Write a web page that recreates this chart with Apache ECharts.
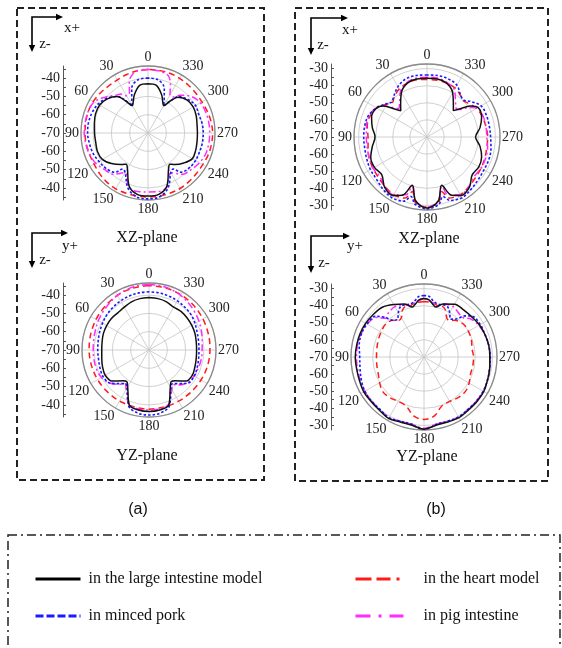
<!DOCTYPE html>
<html>
<head>
<meta charset="utf-8">
<script src="https://cdn.jsdelivr.net/npm/echarts@6/dist/echarts.min.js"></script>
<style>
  html, body { margin: 0; padding: 0; background: #fff; }
  #chart { width: 562px; height: 648px; }
</style>
</head>
<body>
<div id="chart"></div>
<script>
// ---- series names ----
const names = ['in the large intestine model', 'in minced pork', 'in the heart model', 'in pig intestine'];

// ---- angle ticks (deg) ----
const angleTicks = [0, 30, 60, 90, 120, 150, 180, 210, 240, 270, 300, 330];

// ---- (a) XZ-plane : [angle deg, dB] ----
const aXZ_intestine = [[0,-43.1],[10,-43.6],[20,-48],[25,-51],[30,-52.7],[35,-48.5],[40,-44],[50,-41],[60,-39.5],[70,-39.5],[80,-40.3],[90,-40.8],[100,-41],[110,-40.6],[120,-41.2],[130,-44],[140,-47.5],[145,-49.2],[150,-47.5],[160,-39.5],[170,-36],[180,-35.6],[190,-36],[200,-39.5],[210,-47.5],[215,-49.2],[220,-47.5],[230,-44.5],[240,-42],[250,-42.3],[260,-42.8],[270,-43],[280,-42.8],[290,-42],[300,-41.5],[310,-42],[320,-44.5],[325,-48.5],[330,-52.7],[335,-51],[340,-48],[350,-43.6]];
const aXZ_pork = [[0,-40],[10,-40.3],[20,-44],[25,-49],[30,-53],[35,-48],[40,-44],[50,-40.5],[60,-38.5],[70,-37.5],[80,-37],[90,-37],[100,-37.5],[110,-38],[120,-39],[130,-40],[140,-42],[145,-46],[150,-45],[160,-38],[170,-34.5],[180,-34],[190,-34.5],[200,-38],[210,-45],[215,-46],[220,-42],[230,-40.5],[240,-40],[250,-40],[260,-39.8],[270,-39.8],[280,-40],[290,-40.5],[300,-40],[310,-41.5],[320,-44],[325,-48.5],[330,-53],[335,-49],[340,-44],[350,-40.3]];
const aXZ_heart = [[0,-35.3],[10,-35.5],[20,-36],[30,-36.5],[40,-36.5],[50,-36],[60,-35.5],[70,-35.3],[80,-35.5],[90,-35.6],[100,-35.8],[110,-36],[120,-36],[130,-35.5],[140,-35],[150,-34.8],[160,-35],[170,-35],[180,-35],[190,-35],[200,-35],[210,-35],[220,-35.3],[230,-35.5],[240,-35.5],[250,-35],[260,-34.8],[270,-34.7],[280,-35],[290,-35.5],[300,-36],[310,-36],[320,-35.8],[330,-35.5],[340,-35.3],[350,-35.3]];
const aXZ_pig = [[0,-35.3],[10,-35.6],[15,-37],[20,-40],[25,-46],[30,-46.5],[35,-44],[40,-43],[50,-39.5],[60,-36],[70,-35.3],[80,-35.2],[90,-35.2],[100,-35.5],[110,-36],[120,-37],[130,-39],[140,-40.5],[145,-43],[150,-45],[155,-43],[160,-39],[170,-37.5],[180,-37.8],[190,-37.5],[200,-39],[205,-43],[210,-45],[215,-43],[220,-40.5],[230,-39],[240,-37.5],[250,-36.5],[260,-36.3],[270,-36.3],[280,-36.3],[290,-36.5],[300,-37],[310,-39],[320,-43],[325,-46],[330,-46],[335,-41],[340,-37],[345,-36],[350,-35.5]];

// ---- (a) YZ-plane ----
const aYZ_intestine = [[0,-41.3],[10,-41.5],[20,-42],[30,-43],[40,-43.5],[50,-43.2],[60,-43.3],[70,-43.5],[80,-44],[90,-44.2],[100,-43.8],[110,-43],[120,-42.4],[130,-43.6],[140,-48],[145,-48.9],[150,-46.7],[160,-38.2],[170,-36.7],[180,-36.4],[190,-36.7],[200,-38.2],[210,-46.7],[215,-48.9],[220,-48],[230,-43.6],[240,-42.6],[250,-43.3],[260,-43.8],[270,-44],[280,-43.8],[290,-43.3],[300,-43],[310,-42.8],[320,-42.6],[330,-43],[340,-42],[350,-41.5]];
const aYZ_pork = [[0,-38.2],[10,-38.3],[20,-38.6],[30,-39],[40,-39.5],[50,-40],[60,-40.7],[70,-41.3],[80,-41.8],[90,-42],[100,-42],[110,-41.5],[120,-41],[130,-42],[140,-46],[145,-47.6],[150,-46],[160,-37.5],[170,-35],[180,-34.5],[190,-35],[200,-37.5],[210,-46],[215,-47.6],[220,-46],[230,-42],[240,-41.5],[250,-42],[260,-42.5],[270,-42.7],[280,-42.5],[290,-42],[300,-41],[310,-40],[320,-39.5],[330,-39],[340,-38.6],[350,-38.3]];
const aYZ_heart = [[0,-34.8],[10,-35],[20,-35.2],[30,-35.5],[40,-35.9],[50,-36.3],[60,-36.6],[70,-36.9],[80,-37.1],[90,-37.3],[100,-37.4],[110,-37.5],[120,-37.6],[130,-37.7],[140,-37.8],[150,-37.8],[160,-37.9],[170,-37.8],[180,-37.7],[190,-37.8],[200,-37.8],[210,-37.7],[220,-37.6],[230,-37.4],[240,-37.2],[250,-37],[260,-36.8],[270,-36.7],[280,-36.5],[290,-36.3],[300,-36],[310,-35.7],[320,-35.4],[330,-35.2],[340,-35],[350,-34.9]];
const aYZ_pig = [[0,-34.2],[10,-34.3],[20,-34.8],[30,-35.5],[40,-36.5],[50,-37.3],[60,-38],[70,-38.8],[80,-39.3],[90,-39.5],[100,-39.5],[110,-39.5],[120,-40],[130,-42],[140,-45.5],[145,-47.5],[150,-45],[160,-38.5],[170,-37.3],[180,-37.2],[190,-37.3],[200,-38.5],[210,-45],[215,-47],[220,-45],[230,-42.5],[240,-41.5],[250,-41.3],[260,-41],[270,-41],[280,-40.5],[290,-39.5],[300,-38.5],[310,-37.5],[320,-36.5],[330,-35.5],[340,-34.8],[350,-34.4]];

// ---- (b) XZ-plane ----
const bXZ_intestine = [[0,-35.7],[10,-35.5],[20,-36.5],[30,-40],[40,-46],[45,-48.3],[50,-44],[55,-38.5],[60,-36],[70,-35.5],[80,-37.5],[90,-39.6],[100,-37.5],[110,-35],[120,-34.5],[130,-35.5],[140,-31.5],[150,-30.5],[157,-33],[163,-40.5],[170,-32],[180,-28.5],[190,-32],[197,-40.5],[203,-33],[210,-30.5],[220,-31.5],[230,-35.5],[240,-35],[250,-36],[260,-38.5],[270,-41.6],[280,-38.5],[290,-36],[300,-35.5],[305,-38.5],[310,-44],[315,-48.2],[320,-46],[330,-40],[340,-36.5],[350,-35.5]];
const bXZ_pork = [[0,-33.7],[10,-33.5],[20,-33.8],[30,-36],[40,-39.5],[45,-41],[50,-39.5],[60,-36],[70,-33.5],[80,-33],[90,-33],[100,-33],[110,-32.5],[120,-31.8],[130,-31.5],[140,-30],[150,-29],[160,-30],[165,-34],[170,-30],[180,-28],[190,-30],[195,-34],[200,-30.5],[210,-29],[220,-30],[230,-31],[240,-31.5],[250,-31.5],[260,-32],[270,-32.8],[280,-33],[290,-33],[300,-33.5],[310,-37.5],[315,-39.5],[320,-39],[330,-35],[340,-33.8],[350,-33.5]];
const bXZ_heart = [[0,-36.3],[10,-36],[20,-36.5],[30,-37.5],[40,-40],[45,-41.5],[50,-40],[60,-36],[70,-34.5],[80,-34.5],[90,-35.5],[100,-35],[110,-34],[120,-33.5],[130,-33],[140,-32],[150,-31],[160,-32],[165,-37],[170,-31],[180,-29],[190,-31],[195,-37],[200,-32],[210,-31],[220,-32],[230,-33],[240,-33.5],[250,-34],[260,-34.5],[270,-34.5],[280,-35],[290,-35.5],[300,-36.5],[310,-39],[315,-40],[320,-39],[330,-37],[340,-36.5],[350,-36.3]];
const bXZ_pig = [[0,-35],[10,-35],[20,-36],[30,-39],[40,-45],[45,-46.5],[50,-43],[55,-38],[60,-35.5],[70,-34],[80,-34],[90,-34.5],[100,-34.5],[110,-34],[120,-33.5],[130,-34],[140,-32],[150,-31],[160,-34],[163,-40],[170,-32],[180,-29],[190,-32],[197,-40],[200,-34],[210,-31],[220,-32],[230,-34],[240,-33.5],[250,-33.5],[260,-34],[270,-35],[280,-35],[290,-35],[300,-36],[305,-40],[310,-45],[315,-46],[320,-44],[330,-38],[340,-36],[350,-35]];

// ---- (b) YZ-plane ----
const bYZ_intestine = [[0,-35.8],[5,-36.5],[10,-39],[13,-40],[20,-37],[30,-34.5],[40,-32],[50,-31.3],[60,-30.6],[70,-30.2],[80,-30],[90,-29.8],[100,-30],[110,-29.8],[120,-29.3],[130,-29.6],[140,-29.4],[150,-28.5],[160,-29.5],[170,-29.5],[180,-27.8],[190,-29.5],[200,-29.5],[210,-29],[220,-29.5],[230,-29.5],[240,-29.6],[250,-30.5],[260,-31],[270,-31.5],[280,-31.5],[290,-32],[300,-32.5],[310,-33.5],[320,-34],[330,-34.3],[340,-37],[347,-40],[350,-39],[355,-36.5]];
const bYZ_pork = [[0,-34],[5,-34.5],[10,-37],[15,-38],[20,-37.5],[25,-37.5],[30,-40],[35,-43],[40,-42],[45,-37],[50,-33],[60,-31.5],[70,-31],[80,-31.5],[90,-32.4],[100,-32],[110,-31],[120,-30],[130,-30],[140,-30],[150,-29],[160,-30],[170,-30],[175,-28.5],[180,-27.5],[185,-28.5],[190,-30],[200,-30],[210,-29.5],[220,-30],[230,-30],[240,-30],[250,-30.5],[260,-31],[270,-31.2],[280,-31.5],[290,-32],[300,-32],[310,-33],[315,-36],[320,-41],[325,-43],[330,-40],[335,-37.5],[340,-37.5],[345,-38],[350,-37],[355,-34.5]];
const bYZ_heart = [[0,-37.5],[10,-38],[15,-39],[20,-38.5],[25,-40],[30,-43.5],[35,-44],[40,-42],[50,-40.5],[60,-41],[70,-41.5],[80,-42],[90,-42.2],[100,-42],[110,-41.5],[120,-40],[130,-38.5],[140,-39],[150,-40],[160,-39.5],[170,-35],[180,-33.5],[190,-35],[200,-39.5],[210,-40],[220,-39],[230,-38.5],[240,-39.5],[250,-41],[260,-41],[270,-41],[280,-41.5],[290,-40.5],[300,-40],[310,-40],[320,-42],[325,-44],[330,-43.5],[335,-40],[340,-38.5],[345,-39],[350,-38]];
const bYZ_pig = [[0,-35.5],[10,-38],[15,-39],[20,-37.5],[30,-36],[40,-37],[45,-38],[50,-34],[60,-31.5],[70,-30.8],[80,-30.5],[90,-30.5],[100,-30.5],[110,-30.3],[120,-30],[130,-30],[140,-29.8],[150,-29],[160,-30],[170,-30],[180,-28.3],[190,-30],[200,-30],[210,-29.5],[220,-30],[230,-30],[240,-30],[250,-30.5],[260,-31],[270,-31.3],[280,-31.5],[290,-32],[300,-33],[310,-35],[315,-37.5],[320,-37.5],[330,-36],[340,-37],[345,-39],[350,-38]];

// ---- radial scale (dB) ----
const rMin = -70;
const rMaxA = -33.4;
const rMaxB = -27.3;
const sideTicksA = [-40, -50, -60, -70];
const sideTicksB = [-30, -40, -50, -60, -70];

// ---- layout ----
const FONT = '"Liberation Serif", "Times New Roman", serif';
const panels = [
  { center: [148, 133], radius: 67, rMax: rMaxA, sideX: 63, side: sideTicksA, title: 'XZ-plane', titlePos: [147, 238],
    curves: [aXZ_heart, aXZ_pig, aXZ_pork, aXZ_intestine] },
  { center: [149, 350], radius: 67, rMax: rMaxA, sideX: 63, side: sideTicksA, title: 'YZ-plane', titlePos: [147, 456],
    curves: [aYZ_heart, aYZ_pig, aYZ_pork, aYZ_intestine] },
  { center: [427, 137], radius: 73, rMax: rMaxB, sideX: 331, side: sideTicksB, title: 'XZ-plane', titlePos: [429, 239],
    curves: [bXZ_heart, bXZ_pig, bXZ_pork, bXZ_intestine] },
  { center: [424, 357], radius: 73, rMax: rMaxB, sideX: 331, side: sideTicksB, title: 'YZ-plane', titlePos: [427, 457],
    curves: [bYZ_heart, bYZ_pig, bYZ_pork, bYZ_intestine] }
];

// drawing order: heart, pig, pork, intestine
const curveNames = [names[2], names[3], names[1], names[0]];
const curveStyles = [
  { color: '#ff1a1a', width: 1.5, type: [6, 4] },
  { color: '#ff2bff', width: 1.5, type: [7, 3, 2, 3] },
  { color: '#1a1aff', width: 1.6, type: [2.5, 2] },
  { color: '#111111', width: 1.5, type: 'solid' }
];

const polar = [], angleAxis = [], radiusAxis = [], grid = [], xAxis = [], yAxis = [], series = [];

panels.forEach((p, i) => {
  polar.push({ center: p.center, radius: p.radius });
  angleAxis.push({
    polarIndex: i, type: 'value', min: 0, max: 360, interval: 30,
    startAngle: 90, clockwise: false,
    axisLine: { lineStyle: { color: '#8a8a8a', width: 1.3 } },
    axisTick: { show: false },
    axisLabel: {
      fontFamily: FONT, fontSize: 14, color: '#222', margin: 2,
      formatter: v => (angleTicks.indexOf(v) >= 0 ? String(v) : '')
    },
    splitLine: { lineStyle: { color: '#c4c4c4', width: 0.8 } }
  });
  radiusAxis.push({
    polarIndex: i, type: 'value', min: rMin, max: p.rMax, interval: 10,
    axisLine: { show: false }, axisTick: { show: false }, axisLabel: { show: false },
    splitLine: { lineStyle: { color: '#c4c4c4', width: 0.8 } }
  });

  // mirrored dB scale beside each pattern: offset from centre -> dB value
  const span = p.rMax - rMin;
  const labelVals = [];
  p.side.forEach(d => { const o = d - rMin; labelVals.push(o); if (o) labelVals.push(-o); });
  const tickVals = [];
  for (let o = -Math.floor(span / 5) * 5; o <= span; o += 5) tickVals.push(o);
  grid.push({ left: p.sideX, top: p.center[1] - p.radius, width: 1, height: 2 * p.radius });
  xAxis.push({ gridIndex: i, type: 'value', show: false, min: 0, max: 1 });
  yAxis.push({
    gridIndex: i, type: 'value', position: 'left', min: -span, max: span,
    axisLine: { show: true, lineStyle: { color: '#555', width: 1 } },
    axisTick: { show: true, inside: true, length: 3, customValues: tickVals, lineStyle: { color: '#555' } },
    axisLabel: {
      customValues: labelVals, margin: 3,
      fontFamily: FONT, fontSize: 14, color: '#222',
      formatter: v => String(Math.round(rMin + Math.abs(v)))
    },
    splitLine: { show: false }
  });

  p.curves.forEach((pts, k) => {
    const data = pts.map(([a, v]) => [v, a]);
    data.push([pts[0][1], 360]);
    series.push({
      name: curveNames[k], type: 'line', coordinateSystem: 'polar', polarIndex: i,
      data, smooth: 0.35, symbol: 'none', showSymbol: false,
      lineStyle: curveStyles[k], itemStyle: { color: curveStyles[k].color },
      z: 3 + k
    });
  });
});

// ---- decorations: frames, orientation arrows, captions ----
const graphic = [];
function frame(x, y, w, h, dash, lw) {
  graphic.push({ type: 'rect', shape: { x, y, width: w, height: h }, silent: true,
    style: { fill: 'none', stroke: '#222', lineWidth: lw, lineDash: dash } });
}
frame(17, 8, 247, 472, [7, 4], 2);
frame(295, 8, 253, 473, [7, 4], 2);
frame(8, 535, 552, 130, [9, 4, 2, 4], 1.5);

function corner(cx, cy, hx, vy, hLab, vLab) {
  graphic.push({ type: 'polyline', shape: { points: [[hx - 5, cy], [cx, cy], [cx, vy - 5]] },
    style: { stroke: '#000', lineWidth: 1.6, fill: 'none' } });
  graphic.push({ type: 'polygon', shape: { points: [[hx, cy], [hx - 7, cy - 3.2], [hx - 7, cy + 3.2]] }, style: { fill: '#000' } });
  graphic.push({ type: 'polygon', shape: { points: [[cx, vy], [cx - 3.2, vy - 7], [cx + 3.2, vy - 7]] }, style: { fill: '#000' } });
  graphic.push({ type: 'text', x: hLab[0], y: hLab[1], style: { text: hLab[2], fontFamily: FONT, fontSize: 15, fill: '#111', align: 'center', verticalAlign: 'middle' } });
  graphic.push({ type: 'text', x: vLab[0], y: vLab[1], style: { text: vLab[2], fontFamily: FONT, fontSize: 15, fill: '#111', align: 'center', verticalAlign: 'middle' } });
}
corner(32, 17, 63, 52, [72, 28, 'x+'], [45, 44, 'z-']);
corner(32, 233, 68, 268, [70, 246, 'y+'], [45, 260, 'z-']);
corner(311, 18, 348, 55, [350, 30, 'x+'], [323, 45, 'z-']);
corner(311, 236, 350, 273, [355, 246, 'y+'], [324, 263, 'z-']);

panels.forEach(p => {
  graphic.push({ type: 'text', x: p.titlePos[0], y: p.titlePos[1],
    style: { text: p.title, fontFamily: FONT, fontSize: 16, fill: '#111', align: 'center', verticalAlign: 'middle' } });
});
graphic.push({ type: 'text', x: 138, y: 510, style: { text: '(a)', fontFamily: '"Liberation Sans", Arial, sans-serif', fontSize: 16, fill: '#111', align: 'center', verticalAlign: 'middle' } });
graphic.push({ type: 'text', x: 436, y: 510, style: { text: '(b)', fontFamily: '"Liberation Sans", Arial, sans-serif', fontSize: 16, fill: '#111', align: 'center', verticalAlign: 'middle' } });

// legend: line samples only (no point marker)
const legendText = { fontFamily: FONT, fontSize: 16, color: '#111' };
const hideMarker = { opacity: 0 };
const legend = [
  { left: 29, top: 566, orient: 'vertical', itemGap: 21, itemWidth: 45, itemHeight: 12, selectedMode: false,
    textStyle: Object.assign({ padding: [0, 0, 0, 3] }, legendText),
    data: [
      { name: names[0], itemStyle: hideMarker, lineStyle: { width: 3, type: 'solid', color: '#000' } },
      { name: names[1], itemStyle: hideMarker, lineStyle: { width: 3, type: [8, 3], color: '#1a1aff' } }
    ] },
  { left: 349, top: 566, orient: 'vertical', itemGap: 21, itemWidth: 48, itemHeight: 12, selectedMode: false,
    textStyle: Object.assign({ padding: [0, 0, 0, 15] }, legendText),
    data: [
      { name: names[2], itemStyle: hideMarker, lineStyle: { width: 3, type: [16, 5, 14, 6, 3, 20], color: '#ff1a1a' } },
      { name: names[3], itemStyle: hideMarker, lineStyle: { width: 3, type: [15, 8, 3, 8, 14, 20], color: '#ff2bff' } }
    ] }
];

const chart = echarts.init(document.getElementById('chart'), null, { renderer: 'canvas' });
chart.setOption({
  animation: false,
  backgroundColor: '#fff',
  polar, angleAxis, radiusAxis, grid, xAxis, yAxis, series, legend, graphic
});
</script>
</body>
</html>
